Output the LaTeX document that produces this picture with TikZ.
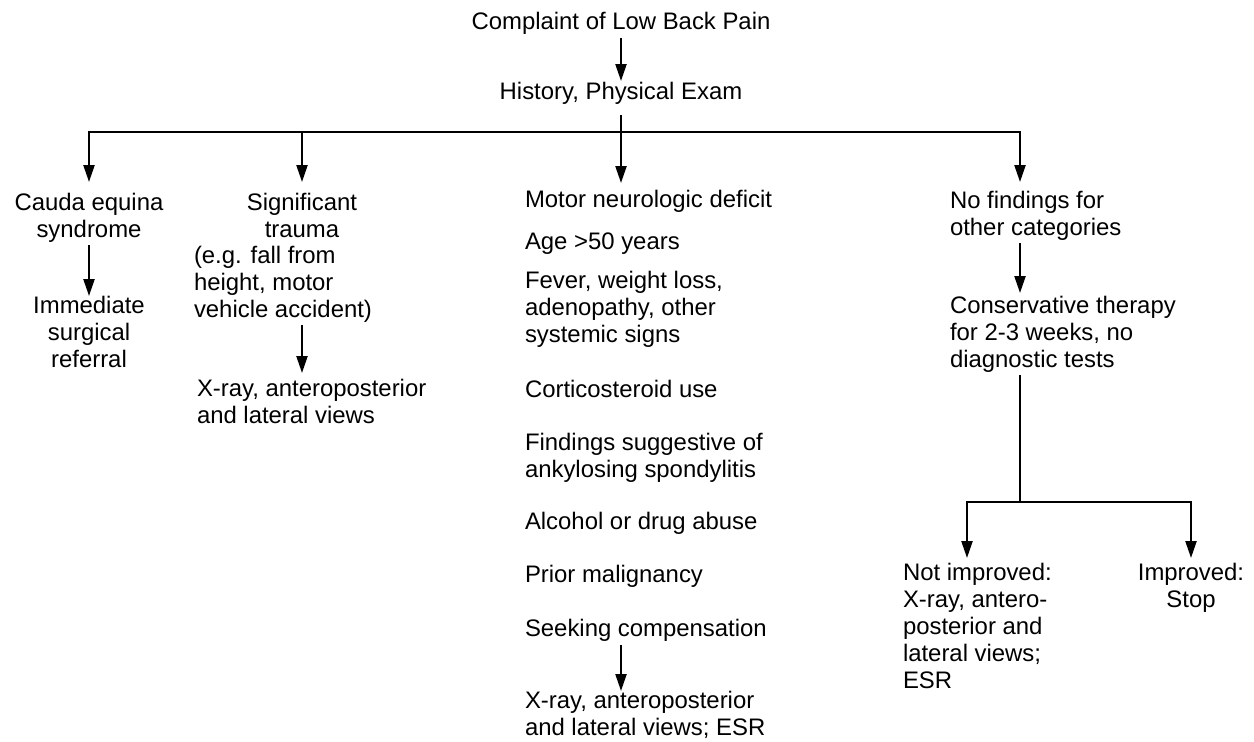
\documentclass[tikz,border=0pt]{standalone}
\usepackage{fontspec}
\setmainfont{Liberation Sans}
\usetikzlibrary{arrows.meta, calc}

\begin{document}
\begin{tikzpicture}[x=0.02cm, y=-0.02cm, every node/.style={inner sep=0pt, outer sep=0pt, font=\fontsize{13.6pt}{15.36pt}\selectfont, execute at begin node=\strut}]
	\tikzstyle{line}=[line width=1.3pt]
	\tikzstyle{arr}=[
		line width=1.3pt,
		-{Triangle[length=0.34cm, width=0.22cm]}
	]
	\tikzstyle{item}=[anchor=north west, align=left]
	\tikzstyle{centred}=[anchor=north, align=center]

	\useasboundingbox (0,0) rectangle (1254,741);

	\node (complaint) [centred] at (621,11) {Complaint of Low Back Pain};
	\node (history) [centred] at (621,81) {History, Physical Exam};

	\node (cauda) [centred] at (89,193) {Cauda equina\\syndrome};
	\node (surg) [centred] at (89,296) {Immediate\\surgical\\referral};

	\node (sig) [centred] at (302,193) {Significant\\trauma};
	\node (eg) [item] at (194,246) {(e.g. fall from\\height, motor\\vehicle accident)};
	\node (xr1) [item] at (197,379) {X-ray, anteroposterior\\and lateral views};

	\node (motor) [item] at (525,189) {Motor neurologic deficit};
	\node (age) [item] at (525,231) {Age >50 years};
	\node (fever) [item] at (525,271) {Fever, weight loss,\\adenopathy, other\\systemic signs};
	\node (cort) [item] at (525,379) {Corticosteroid use};
	\node (ank) [item] at (525,433) {Findings suggestive of\\ankylosing spondylitis};
	\node (alc) [item] at (525,511) {Alcohol or drug abuse};
	\node (prior) [item] at (525,564) {Prior malignancy};
	\node (seek) [item] at (525,618) {Seeking compensation};
	\node (xr2) [item] at (525,691) {X-ray, anteroposterior\\and lateral views; ESR};

	\node (nofind) [item] at (950,191) {No findings for\\other categories};
	\node (cons) [item] at (950,296) {Conservative therapy\\for 2-3 weeks, no\\diagnostic tests};
	\node (notimp) [item] at (903,563) {Not improved:\\X-ray, antero-\\posterior and\\lateral views;\\ESR};
	\node (imp) [centred] at (1191,563) {Improved:\\Stop};

	\coordinate (hub) at (621,132);
	\coordinate (busR) at (1020,132);
	\coordinate (fork) at (1020,502);
	\coordinate (forkL) at (967,502);

	\draw [arr] (complaint) -- (history);
	\draw [line, shorten <=0.14cm] (history) -- (hub);
	\draw [arr, shorten >=0.12cm] (hub) -- (hub |- motor.north);
	\draw [arr, shorten >=0.22cm] (hub) -| (cauda);
	\draw [arr, shorten >=0.22cm] (hub) -| (sig);
	\draw [arr, shorten >=0.18cm] (hub) -| (busR |- nofind.north);

	\draw [arr] (cauda) -- (surg);
	\draw [arr, shorten >=0.12cm] (eg.south -| sig) -- (xr1.north -| sig);
	\draw [arr] (seek.south -| hub) -- (xr2.north -| hub);

	\draw [arr, shorten >=0.06cm] (nofind.south -| busR) -- (cons.north -| busR);
	\draw [line] (cons.south -| busR) -- (fork);
	\draw [arr, shorten >=0.1cm] (fork) -| (imp);
	\draw [arr, shorten >=0.1cm] (fork) -- (forkL) -- (forkL |- notimp.north);
\end{tikzpicture}
\end{document}
